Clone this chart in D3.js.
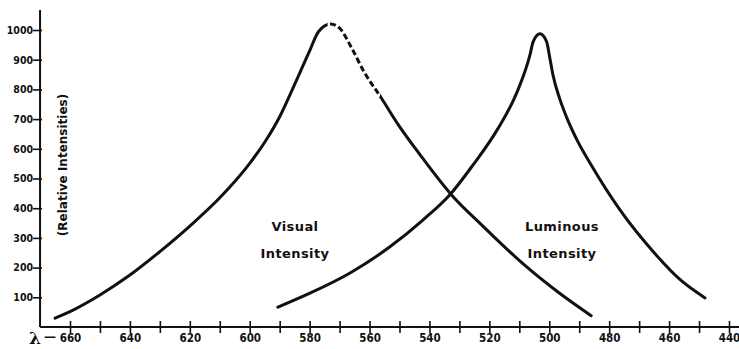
<!DOCTYPE html>
<html>
<head>
<meta charset="utf-8">
<script src="https://cdn.jsdelivr.net/npm/d3@7"></script>
<style>
  html, body { margin: 0; padding: 0; background: #fff; }
  svg { display: block; }
  .tick-lbl { font-family: "DejaVu Sans Condensed", "DejaVu Sans", sans-serif; font-weight: bold; fill: #111; }
  .curve-lbl { font-family: "DejaVu Sans", sans-serif; font-weight: bold; font-size: 13px; fill: #111; letter-spacing: 0.4px; }
</style>
</head>
<body>
<svg id="chart" width="739" height="349"></svg>
<script>
// Wavelength (nm) and relative intensity of the visual curve
const visualWavelength = [665, 660, 650, 640, 630, 620, 610, 600, 595, 590, 585, 580, 577, 573, 570, 566, 562, 556, 551, 543, 533, 522, 509, 497, 486];
const visualIntensity  = [30, 52, 108, 175, 254, 340, 435, 551, 622, 708, 817, 930, 995, 1020, 1006, 940, 862, 770, 690, 578, 449, 338, 215, 117, 38];
// Part of the visual curve that is drawn dashed (nm)
const visualDashedRange = [574, 556.5];

// Wavelength (nm) and relative intensity of the luminous curve
const luminousWavelength = [590.6, 579.9, 566.5, 553.2, 542.2, 533.1, 525.5, 517.5, 510.8, 506.4, 505.4, 503.1, 500.9, 499.8, 498.8, 496.5, 494.2, 490.5, 486.4, 476.4, 464.1, 456.4, 448.0];
const luminousIntensity  = [67, 114, 182, 270, 360, 446, 545, 662, 790, 918, 960, 987, 961, 905, 850, 768, 706, 625, 552, 394, 240, 160, 98];

// Axis ticks
const xTickValues = [660, 650, 640, 630, 620, 610, 600, 590, 580, 570, 560, 550, 540, 530, 520, 510, 500, 490, 480, 470, 460, 450, 440];
const xTickLabels = [660, 640, 620, 600, 580, 560, 540, 520, 500, 480, 460, 440];
const yTickValues = [100, 200, 300, 400, 500, 600, 700, 800, 900, 1000];

const svg = d3.select("#chart");
const W = 739;

const x = d3.scaleLinear().domain([660, 440]).range([70, 729]);
const y = d3.scaleLinear().domain([0, 1000]).range([327, 30]);

const axisX0 = x(670);   // where the vertical axis stands
const axisTop = 10;

// Axis lines
svg.append("line")
  .attr("x1", axisX0).attr("x2", W)
  .attr("y1", y(0)).attr("y2", y(0))
  .attr("stroke", "#111").attr("stroke-width", 2);
svg.append("line")
  .attr("x1", axisX0).attr("x2", axisX0)
  .attr("y1", axisTop).attr("y2", y(0))
  .attr("stroke", "#111").attr("stroke-width", 2);

// Bottom axis: ticks crossing the line, every 20 nm labelled
const gx = svg.append("g")
  .attr("transform", `translate(0,${y(0)})`)
  .call(d3.axisBottom(x)
    .tickValues(xTickValues)
    .tickSize(0)
    .tickPadding(7)
    .tickFormat(d => xTickLabels.includes(d) ? d3.format("d")(d) : ""));
gx.select(".domain").remove();
gx.selectAll(".tick line")
  .attr("y1", -6).attr("y2", 6)
  .attr("stroke", "#111").attr("stroke-width", 1.6);
gx.selectAll(".tick text")
  .attr("class", "tick-lbl")
  .attr("font-size", 11.5)
  .attr("font-family", null);

// Left axis
const gy = svg.append("g")
  .attr("transform", `translate(${axisX0},0)`)
  .call(d3.axisLeft(y)
    .tickValues(yTickValues)
    .tickSize(0)
    .tickPadding(7)
    .tickFormat(d3.format("d")));
gy.select(".domain").remove();
gy.selectAll(".tick line")
  .attr("x1", -7).attr("x2", 2)
  .attr("stroke", "#111").attr("stroke-width", 1.6);
gy.selectAll(".tick text")
  .attr("class", "tick-lbl")
  .attr("font-size", 10.5)
  .attr("font-family", null);

// Wavelength symbol at the start of the bottom axis
svg.append("text")
  .attr("x", 35).attr("y", 344)
  .attr("text-anchor", "middle")
  .attr("font-family", "DejaVu Serif, serif")
  .attr("font-weight", "bold")
  .attr("font-size", 17)
  .attr("fill", "#111")
  .text("λ");
svg.append("text")
  .attr("x", 50).attr("y", 341)
  .attr("text-anchor", "middle")
  .attr("font-family", "DejaVu Sans, sans-serif")
  .attr("font-weight", "bold")
  .attr("font-size", 12)
  .attr("fill", "#111")
  .text("—");

// Vertical axis title
svg.append("text")
  .attr("transform", `translate(67,165) rotate(-90)`)
  .attr("text-anchor", "middle")
  .attr("font-family", "DejaVu Sans, sans-serif")
  .attr("font-weight", "bold")
  .attr("font-size", 12)
  .attr("fill", "#111")
  .text("(Relative Intensities)");

// Curves
const line = d3.line()
  .x(d => x(d[0]))
  .y(d => y(d[1]))
  .curve(d3.curveMonotoneX);

const visualData = visualWavelength.map((w, i) => [w, visualIntensity[i]]);
const luminousData = luminousWavelength.map((w, i) => [w, luminousIntensity[i]]);

const defs = svg.append("defs");
const dx1 = x(visualDashedRange[0]);
const dx2 = x(visualDashedRange[1]);
defs.append("clipPath").attr("id", "clip-dashed")
  .append("rect").attr("x", dx1).attr("y", 0).attr("width", dx2 - dx1).attr("height", 349);
const solidClip = defs.append("clipPath").attr("id", "clip-solid");
solidClip.append("rect").attr("x", 0).attr("y", 0).attr("width", dx1).attr("height", 349);
solidClip.append("rect").attr("x", dx2).attr("y", 0).attr("width", W - dx2).attr("height", 349);

svg.append("path")
  .datum(visualData)
  .attr("d", line)
  .attr("clip-path", "url(#clip-solid)")
  .attr("fill", "none").attr("stroke", "#111")
  .attr("stroke-width", 3).attr("stroke-linecap", "round");

svg.append("path")
  .datum(visualData)
  .attr("d", line)
  .attr("clip-path", "url(#clip-dashed)")
  .attr("fill", "none").attr("stroke", "#111")
  .attr("stroke-width", 3).attr("stroke-dasharray", "6,3");

svg.append("path")
  .datum(luminousData)
  .attr("d", line)
  .attr("fill", "none").attr("stroke", "#111")
  .attr("stroke-width", 3).attr("stroke-linecap", "round");

// Curve names
const labels = [
  { lines: ["Visual", "Intensity"], cx: 295 },
  { lines: ["Luminous", "Intensity"], cx: 562 }
];
labels.forEach(l => {
  l.lines.forEach((t, i) => {
    svg.append("text")
      .attr("class", "curve-lbl")
      .attr("x", l.cx).attr("y", 231 + i * 27)
      .attr("text-anchor", "middle")
      .text(t);
  });
});
</script>
</body>
</html>
